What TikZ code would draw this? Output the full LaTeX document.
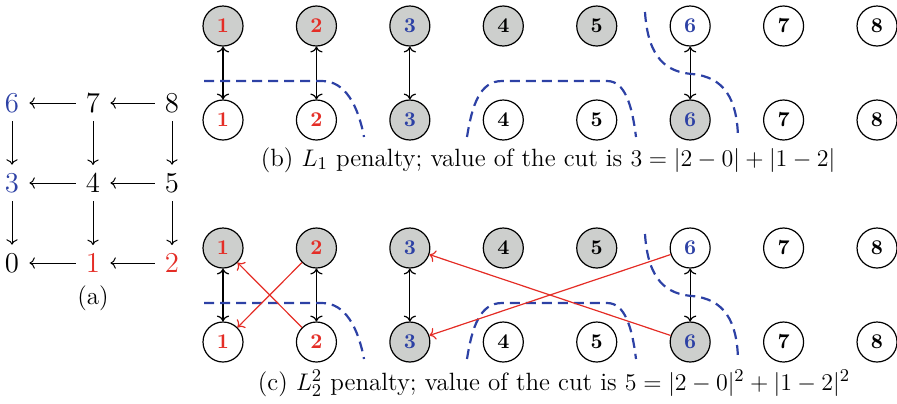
\documentclass[tikz,border=0pt]{standalone}
\usetikzlibrary{arrows.meta}

\definecolor{cutred}{RGB}{228,45,38}
\definecolor{cutblue}{RGB}{45,65,165}
\definecolor{cutgray}{RGB}{205,207,205}

\begin{document}
\begin{tikzpicture}[
  x=0.5pt, y=-0.5pt,
  >=To,
  vtx/.style={circle, draw, line width=0.6pt, minimum size=20pt, inner sep=0pt,
    font=\fontsize{10.5}{12}\selectfont\bfseries},
  gridnum/.style={inner xsep=5pt, inner ysep=4pt, font=\Large},
  cut/.style={cutblue, line width=1.1pt, dash pattern=on 5pt off 3pt},
  caption/.style={font=\fontsize{12.5}{15}\selectfont}
]
\useasboundingbox (0,0) rectangle (897,403);

% (a) the 3x3 grid of labels
\node[gridnum, cutblue] (a6) at (12,103)  {6};
\node[gridnum]          (a7) at (93,103)  {7};
\node[gridnum]          (a8) at (172,103) {8};
\node[gridnum, cutblue] (a3) at (12,183)  {3};
\node[gridnum]          (a4) at (93,183)  {4};
\node[gridnum]          (a5) at (172,183) {5};
\node[gridnum]          (a0) at (12,263)  {0};
\node[gridnum, cutred]  (a1) at (93,263)  {1};
\node[gridnum, cutred]  (a2) at (172,263) {2};
\node[caption] (capa) at (93,298) {(a)};

\draw[->, line width=0.5pt] (a7) -- (a6);
\draw[->, line width=0.5pt] (a8) -- (a7);
\draw[->, line width=0.5pt] (a4) -- (a3);
\draw[->, line width=0.5pt] (a5) -- (a4);
\draw[->, line width=0.5pt] (a1) -- (a0);
\draw[->, line width=0.5pt] (a2) -- (a1);
\foreach \u/\v in {6/3, 7/4, 8/5, 3/0, 4/1, 5/2}
  \draw[->, line width=0.5pt] (a\u) -- (a\v);

% (b) and (c): two rows of labels, top and bottom
\foreach \p/\dy in {b/0, c/222} {
  \foreach \i/\tfill/\tcol/\bfill/\bcol in {1/cutgray/cutred/white/cutred,
      2/cutgray/cutred/white/cutred, 3/cutgray/cutblue/cutgray/cutblue,
      4/cutgray/black/white/black, 5/cutgray/black/white/black,
      6/white/cutblue/cutgray/cutblue, 7/white/black/white/black,
      8/white/black/white/black} {
    \node[vtx, fill=\tfill, text=\tcol] (\p-t\i) at ({223+93.43*(\i-1)}, {26+\dy})  {\i};
    \node[vtx, fill=\bfill, text=\bcol] (\p-b\i) at ({223+93.43*(\i-1)}, {120+\dy}) {\i};
  }
  \foreach \i in {1,2,3,6}
    \draw[<->, line width=0.6pt] (\p-t\i) -- (\p-b\i);

  % the cut
  \begin{scope}[shift={(0,\dy)}]
    \draw[cut] (204,81) -- (322,81) .. controls (345,81) and (358,105) .. (364,137);
    \draw[cut] (467,137) .. controls (472,105) and (480,81) .. (502,81)
               -- (607,81) .. controls (625,81) and (632,105) .. (636,137);
    \draw[cut] (645,12) .. controls (648,60) and (668,72) .. (692,74)
               .. controls (725,77) and (737,100) .. (738,137);
  \end{scope}
}

% wrong-label edges paid by the squared penalty
\draw[->, cutred, line width=0.6pt] (c-b2) -- (c-t1);
\draw[->, cutred, line width=0.6pt] (c-t2) -- (c-b1);
\draw[->, cutred, line width=0.6pt] (c-b6) -- (c-t3);
\draw[->, cutred, line width=0.6pt] (c-t6) -- (c-b3);

\node[caption] (capb) at (548,160)
  {(b) $L_1$ penalty; value of the cut is $3 = |2-0| + |1-2|$};
\node[caption] (capc) at (554,383)
  {(c) $L_2^2$ penalty; value of the cut is $5 = |2-0|^2 + |1-2|^2$};

\end{tikzpicture}
\end{document}
